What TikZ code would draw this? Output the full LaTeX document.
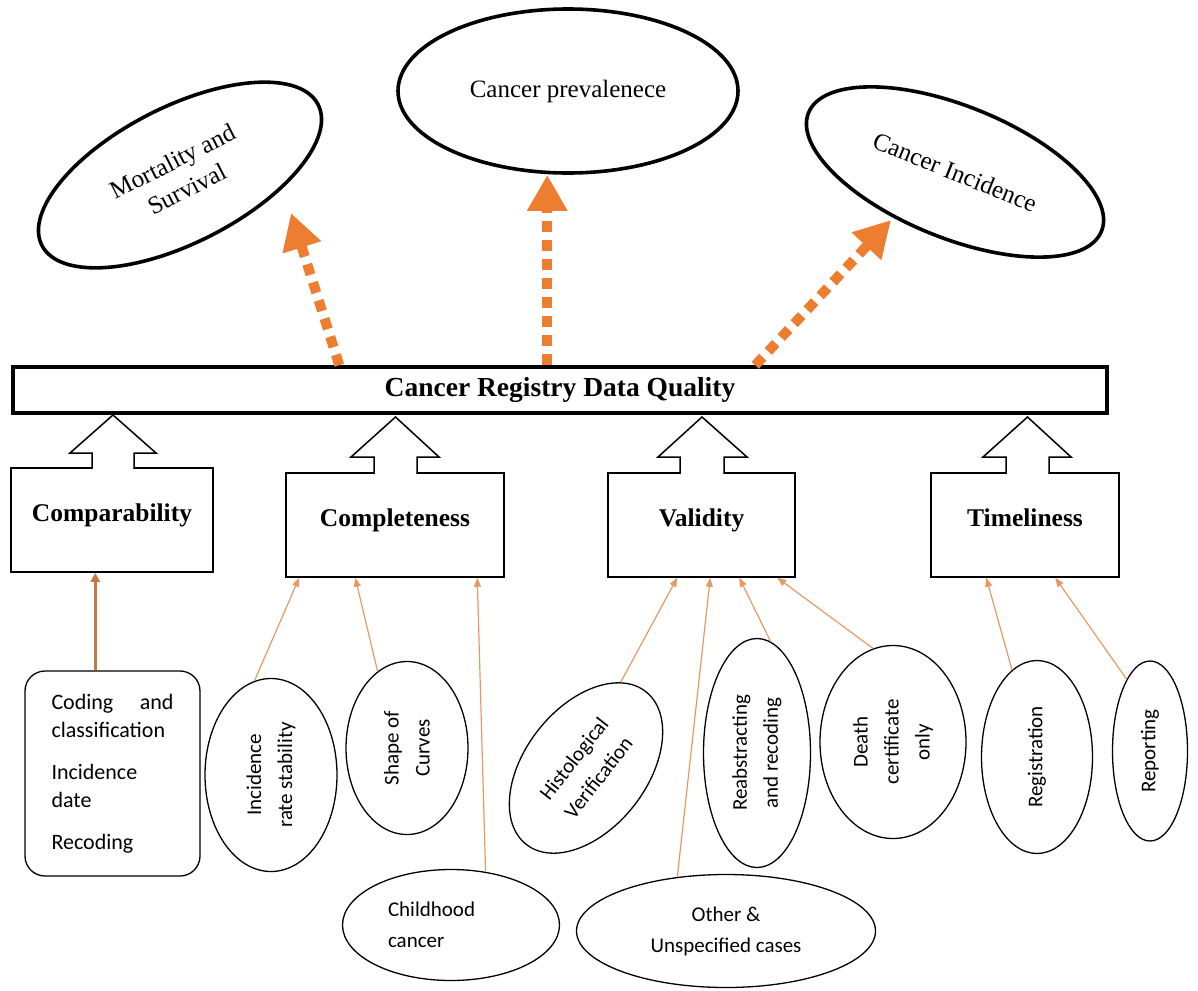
\documentclass[tikz,border=0pt]{standalone}
\usepackage{fontspec}
\setmainfont{Liberation Serif}
\newfontfamily\calfnt{Carlito}
\usetikzlibrary{shapes.geometric,arrows.meta,calc}
\definecolor{orng}{HTML}{ED7D31}
\definecolor{thinor}{HTML}{E59A66}
\definecolor{brnor}{HTML}{C47A45}
\newcommand\blkarr[8]{%
  \fill[white] (#1+0.8,#8-2) rectangle (#2-0.8,#8+1.5);
  \draw[blk] (#1,#8) -- (#1,#5) -- (#3,#5) -- (#6,#7) -- (#4,#5) -- (#2,#5) -- (#2,#8);}
\begin{document}
\begin{tikzpicture}[x=1pt,y=-1pt,
  topell/.style={draw, ellipse, line width=3.6pt, inner sep=0pt, align=center, font=\fontsize{25}{31}\selectfont},
  leaf/.style={draw, ellipse, line width=1.3pt, inner sep=0pt, align=center, font=\calfnt\fontsize{21}{31}\selectfont},
  catbox/.style={draw, rectangle, line width=1.5pt, inner sep=0pt, text height=17pt, text depth=15pt, font=\bfseries\fontsize{25.5}{29}\selectfont},
  blk/.style={line width=1.5pt, fill=white, line join=miter},
  dotarrow/.style={orng, line width=10pt, dash pattern=on 11pt off 8pt, -{Triangle[length=36pt,width=38pt]}},
  thinarrow/.style={thinor, line width=1.2pt, -{Triangle[length=9pt,width=7pt]}},
  brnarrow/.style={brnor, line width=3.5pt, -{Triangle[length=9pt,width=9pt]}},
]
\useasboundingbox (0,0) rectangle (1198,990);

% top outcomes
\node[topell, minimum width=310, minimum height=136, rotate=27] (mort) at (180,175) {Mortality and\\Survival};
\node[topell, minimum width=340, minimum height=164] (prev) at (568,91) {Cancer prevalenece};
\node[topell, minimum width=316, minimum height=132, rotate=-22] (inc) at (955,172) {Cancer Incidence};

% main box
\node[draw, line width=3.5pt, minimum width=1094, minimum height=46, inner sep=0pt, font=\bfseries\fontsize{27.5}{31}\selectfont] (crdq) at (560,390) {Cancer Registry Data Quality};

% dotted arrows
\coordinate (d1) at ($(crdq.north west)+(328,0)$);
\coordinate (m1) at (291,213);
\draw[dotarrow] (d1) -- (m1);
\coordinate (d2) at ($(crdq.north west)+(536,0)$);
\draw[dotarrow] (d2) -- (d2 |- prev.south);
\coordinate (d3) at ($(crdq.north west)+(744,0)$);
\coordinate (i1) at (891,220);
\draw[dotarrow] (d3) -- (i1);

% category boxes
\node[catbox, minimum width=202, minimum height=104] (comp) at (112,520) {Comparability};
\node[catbox, minimum width=218, minimum height=104] (compl) at (395,525) {Completeness};
\node[catbox, minimum width=187, minimum height=104] (valid) at (701.5,525) {Validity};
\node[catbox, minimum width=188, minimum height=104] (time) at (1025,525) {Timeliness};
\blkarr{92}{134}{70}{156}{453}{113}{415}{468}
\blkarr{374}{417}{351}{439}{457}{395.5}{417}{473}
\blkarr{680}{724}{658}{747}{457}{702}{417}{473}
\blkarr{1006}{1049}{983}{1071}{457}{1027.5}{417}{473}

% leaves
\node[draw, rounded corners=20pt, line width=1.3pt, minimum width=175, minimum height=205, inner sep=0pt, font=\calfnt\fontsize{22}{28}\selectfont, text width=122pt, align=left] (code) at (112.5,773.5) {\makebox[122pt]{Coding\hfill and}\\classification\\[14pt]Incidence\\date\\[14pt]Recoding};
\node[leaf, rotate=90, minimum width=193, minimum height=132] (irs) at (271,775) {Incidence\\rate stability};
\node[leaf, rotate=90, minimum width=173, minimum height=122] (soc) at (407,748) {Shape of\\Curves};
\node[leaf, minimum width=217, minimum height=111, text width=126pt, align=left] (child) at (451,925) {Childhood\\cancer};
\node[leaf, rotate=52, minimum width=194, minimum height=122] (hist) at (586,768) {Histological\\Verification};
\node[leaf, minimum width=299, minimum height=113] (other) at (726,931) {Other \&\\Unspecified cases};
\node[leaf, rotate=90, minimum width=229, minimum height=107] (reab) at (757,753) {Reabstracting\\and recoding};
\node[leaf, rotate=90, minimum width=193, minimum height=146] (death) at (893,742) {Death\\certificate\\only};
\node[leaf, rotate=90, minimum width=193, minimum height=111] (reg) at (1037,757) {Registration};
\node[leaf, rotate=90, minimum width=180, minimum height=75] (rep) at (1150,751) {Reporting};

% connectors
\coordinate (cmpt) at ($(comp.south west)+(85,0)$);
\draw[brnarrow] (code.north -| cmpt) -- (cmpt);
\draw[thinarrow] (irs.10) -- ($(compl.south west)+(14,0)$);
\draw[thinarrow] (soc.21) -- ($(compl.south west)+(70,0)$);
\draw[thinarrow] (child.57) -- ($(compl.south west)+(192,0)$);
\draw[thinarrow] (hist.16) -- ($(valid.south west)+(70,0)$);
\draw[thinarrow] (other.132) -- ($(valid.south west)+(103,0)$);
\draw[thinarrow] (reab.-7) -- ($(valid.south west)+(132,0)$);
\draw[thinarrow] (death.12) -- ($(valid.south west)+(170,0)$);
\draw[thinarrow] (reg.16) -- ($(time.south west)+(56,0)$);
\draw[thinarrow] (rep.18) -- ($(time.south west)+(125,0)$);
\end{tikzpicture}
\end{document}
